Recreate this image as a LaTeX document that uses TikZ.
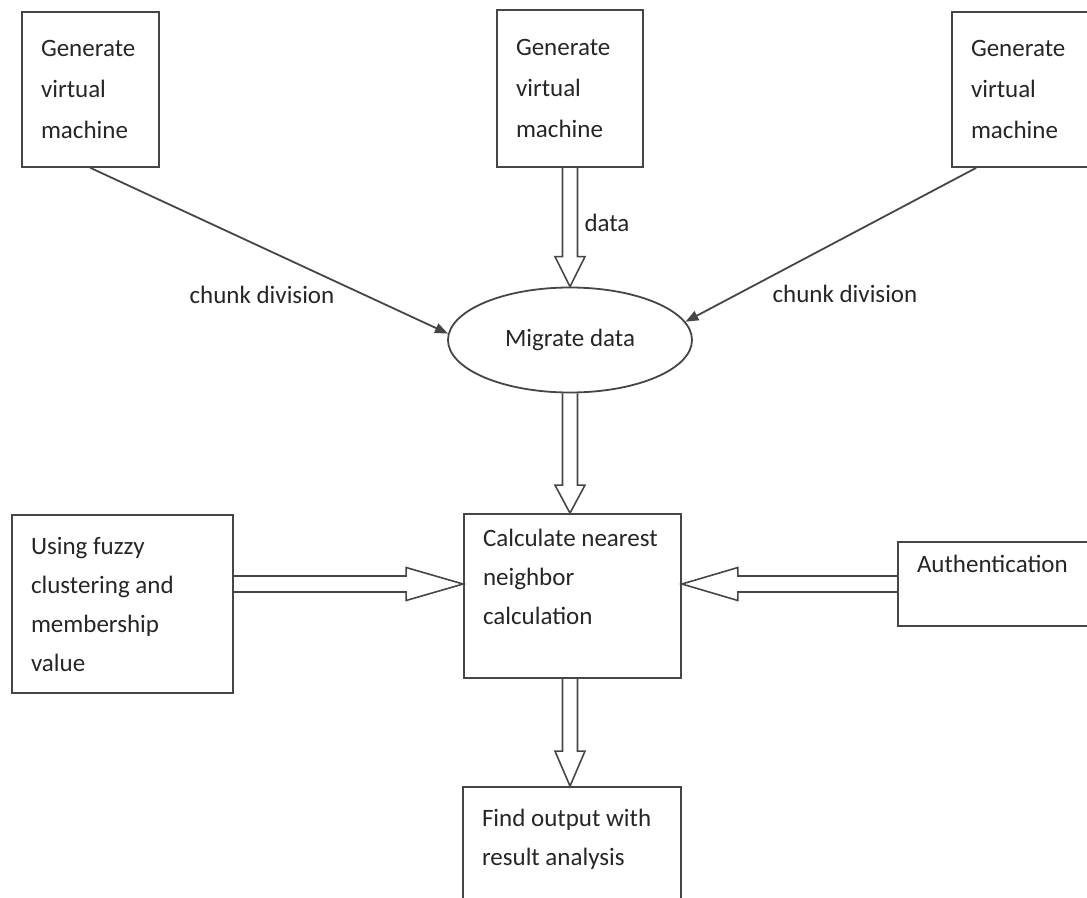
\documentclass[tikz,border=0pt]{standalone}
\usepackage{fontspec}
\setmainfont{Carlito}
\usetikzlibrary{calc,arrows.meta,shapes.geometric}
\definecolor{ln}{RGB}{70,70,70}
\definecolor{tx}{RGB}{38,38,38}
% \fatarrow{head length}{shaft half width}{head half width}{from}{to}
\newcommand\fatarrow[5]{%
  \draw[fat] let \p1=(#4), \p2=(#5), \n1={atan2(\y2-\y1,\x2-\x1)} in
    ($(\p1)+(\n1+90:#2)$) -- ($(\p2)!#1!(\p1)+(\n1+90:#2)$)
    -- ($(\p2)!#1!(\p1)+(\n1+90:#3)$) -- (\p2)
    -- ($(\p2)!#1!(\p1)+(\n1-90:#3)$) -- ($(\p2)!#1!(\p1)+(\n1-90:#2)$)
    -- ($(\p1)+(\n1-90:#2)$);}
\begin{document}
\begin{tikzpicture}[x=1pt,y=-1pt,
  box/.style={draw=ln, line width=1.8pt, rectangle, align=flush left, inner xsep=19pt,
    inner ysep=0pt, text=tx},
  topf/.style={font=\fontsize{25}{41}\selectfont},
  midf/.style={font=\fontsize{25}{39}\selectfont},
  lbl/.style={text=tx, font=\fontsize{25}{30}\selectfont, inner sep=0pt},
  fat/.style={draw=ln, line width=1.6pt, line join=miter},
  thin/.style={draw=ln, line width=1.8pt, -{Triangle[length=13pt,width=10pt]}}]
\useasboundingbox (0,0) rectangle (1087,897);

% top row
\node[box, topf, text width=99pt, minimum height=155pt] (tl) at (90.5,89.5) {Generate\\virtual\\machine};
\node[box, topf, text width=108pt, minimum height=157pt] (tm) at (570,88.5) {Generate\\virtual\\machine};
\node[box, topf, text width=110pt, minimum height=155pt] (tr) at (1026,89.5) {Generate\\virtual\\machine};

% ellipse
\node[draw=ln, line width=1.8pt, ellipse, minimum width=244pt, minimum height=105pt,
  inner sep=0pt, text=tx, font=\fontsize{25}{30}\selectfont] (mig) at (570,340) {Migrate data};

% middle row
\node[box, midf, text width=183pt, minimum height=178pt] (fuz) at (122.5,604)
  {Using fuzzy\\clustering and\\membership\\value};
\node[box, midf, text width=179pt, minimum height=164pt] (calc) at (572.5,596)
  {Calculate nearest\\neighbor\\calculation\\\mbox{}};
\node[box, topf, text width=164pt, minimum height=84pt] (auth) at (999,584)
  {Authentication\\\mbox{}};

% bottom
\node[box, midf, text width=180pt, minimum height=140pt] (out) at (572,857)
  {Find output with\\result analysis\\\mbox{}};

\coordinate (hl) at (0,584);

% connectors
\draw[thin] (tl.south) -- (mig.177);
\draw[thin] ($(tr.south west)+(25,0)$) -- (mig.9);
\fatarrow{30pt}{7.5pt}{15pt}{tm.south}{mig.north}
\fatarrow{28pt}{7.5pt}{15pt}{mig.south}{calc.north -| mig.south}
\fatarrow{35pt}{7.5pt}{15pt}{calc.south -| mig.south}{out.north -| mig.south}
\fatarrow{57pt}{8pt}{16.5pt}{fuz.east |- hl}{calc.west |- hl}
\fatarrow{56pt}{8pt}{16.5pt}{auth.west}{calc.east |- auth.west}

% labels
\node[lbl] (l1) at (262,295) {chunk division};
\node[lbl] (l2) at (845,294) {chunk division};
\node[lbl] (l3) at (607,223) {data};
\end{tikzpicture}
\end{document}
